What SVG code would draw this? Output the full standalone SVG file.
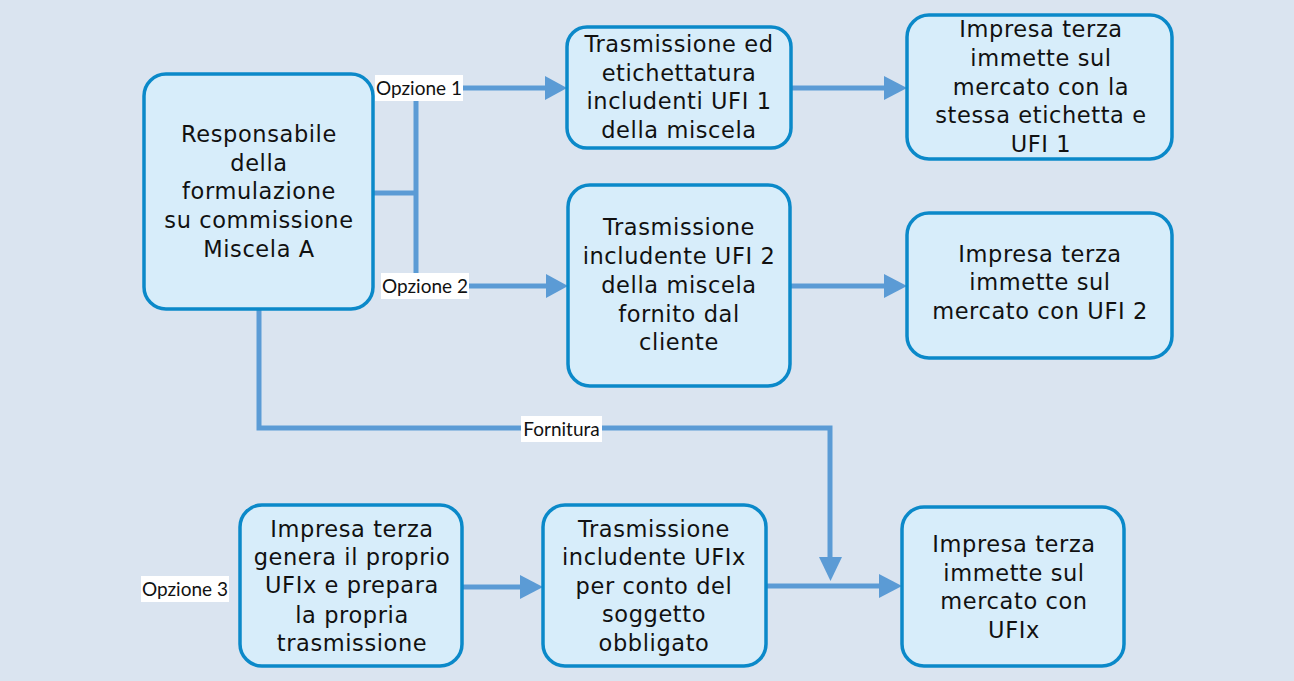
<svg xmlns="http://www.w3.org/2000/svg" width="1294" height="681" viewBox="0 0 1294 681">
<defs>
<style>
.bg{fill:#dae4f0}
.box{fill:#d7edfa;stroke:#0b89c9;stroke-width:3.5}
.t{font-family:"DejaVu Sans",Verdana,sans-serif;font-size:22.5px;letter-spacing:0.6px;fill:#111;text-anchor:middle}
.c{fill:none;stroke:#5b9bd5;stroke-width:5}
.lb{fill:#ffffff}
.l{font-family:Lato,"Liberation Sans",sans-serif;font-size:19px;fill:#111;text-anchor:middle}
.ah{fill:#5b9bd5}
</style>
</defs>
<rect class="bg" x="0" y="0" width="1294" height="681"/>
<g id="connectors">
<path class="c" d="M373 193 H416 M416 88 V286 M463 88 H546 M469 286 H547"/>
<polygon class="ah" points="545,76 567,88 545,100"/>
<polygon class="ah" points="546,274 568,286 546,298"/>
<path class="c" d="M791 88 H886"/>
<polygon class="ah" points="884,76 907,88 884,100"/>
<path class="c" d="M790 286 H886"/>
<polygon class="ah" points="884,274 907,286 884,298"/>
<path class="c" d="M259 309 V428 H830 V559"/>
<polygon class="ah" points="819,557 830.5,581 842,557"/>
<path class="c" d="M462 587 H522"/>
<polygon class="ah" points="520,575 543,587 520,599"/>
<path class="c" d="M766 586 H881"/>
<polygon class="ah" points="879,574 902,586 879,598"/>
<rect class="lb" x="375" y="75" width="88" height="26"/>
<text class="l" x="419" y="95">Opzione 1</text>
<rect class="lb" x="381" y="273" width="88" height="26"/>
<text class="l" x="425" y="293">Opzione 2</text>
<rect class="lb" x="521" y="416" width="81" height="26"/>
<text class="l" x="561.5" y="436">Fornitura</text>
<rect class="lb" x="141" y="576" width="88" height="26"/>
<text class="l" x="185" y="596">Opzione 3</text>
</g>
<g id="n1">
<rect class="box" x="144" y="74" width="229" height="235" rx="22"/>
<text class="t" x="259" y="142">Responsabile</text>
<text class="t" x="259" y="171">della</text>
<text class="t" x="259" y="199">formulazione</text>
<text class="t" x="259" y="228">su commissione</text>
<text class="t" x="259" y="257">Miscela A</text>
</g>
<g id="n2">
<rect class="box" x="567" y="27" width="224" height="121" rx="20"/>
<text class="t" x="679" y="52">Trasmissione ed</text>
<text class="t" x="679" y="81">etichettatura</text>
<text class="t" x="679" y="109">includenti UFI 1</text>
<text class="t" x="679" y="138">della miscela</text>
</g>
<g id="n3">
<rect class="box" x="907" y="15" width="265" height="144" rx="22"/>
<text class="t" x="1041" y="37">Impresa terza</text>
<text class="t" x="1041" y="66">immette sul</text>
<text class="t" x="1041" y="95">mercato con la</text>
<text class="t" x="1041" y="123">stessa etichetta e</text>
<text class="t" x="1041" y="152">UFI 1</text>
</g>
<g id="n4">
<rect class="box" x="568" y="185" width="222" height="201" rx="22"/>
<text class="t" x="679" y="235">Trasmissione</text>
<text class="t" x="679" y="264">includente UFI 2</text>
<text class="t" x="679" y="293">della miscela</text>
<text class="t" x="679" y="322">fornito dal</text>
<text class="t" x="679" y="350">cliente</text>
</g>
<g id="n5">
<rect class="box" x="907" y="213" width="265" height="145" rx="22"/>
<text class="t" x="1040" y="262">Impresa terza</text>
<text class="t" x="1040" y="290">immette sul</text>
<text class="t" x="1040" y="319">mercato con UFI 2</text>
</g>
<g id="n6">
<rect class="box" x="240" y="505" width="222" height="161" rx="22"/>
<text class="t" x="352" y="537">Impresa terza</text>
<text class="t" x="352" y="565">genera il proprio</text>
<text class="t" x="352" y="593">UFIx e prepara</text>
<text class="t" x="352" y="623">la propria</text>
<text class="t" x="352" y="651">trasmissione</text>
</g>
<g id="n7">
<rect class="box" x="543" y="505" width="223" height="161" rx="22"/>
<text class="t" x="654" y="537">Trasmissione</text>
<text class="t" x="654" y="565">includente UFIx</text>
<text class="t" x="654" y="594">per conto del</text>
<text class="t" x="654" y="622">soggetto</text>
<text class="t" x="654" y="651">obbligato</text>
</g>
<g id="n8">
<rect class="box" x="902" y="507" width="222" height="159" rx="22"/>
<text class="t" x="1014" y="552">Impresa terza</text>
<text class="t" x="1014" y="581">immette sul</text>
<text class="t" x="1014" y="609">mercato con</text>
<text class="t" x="1014" y="638">UFIx</text>
</g>
</svg>
